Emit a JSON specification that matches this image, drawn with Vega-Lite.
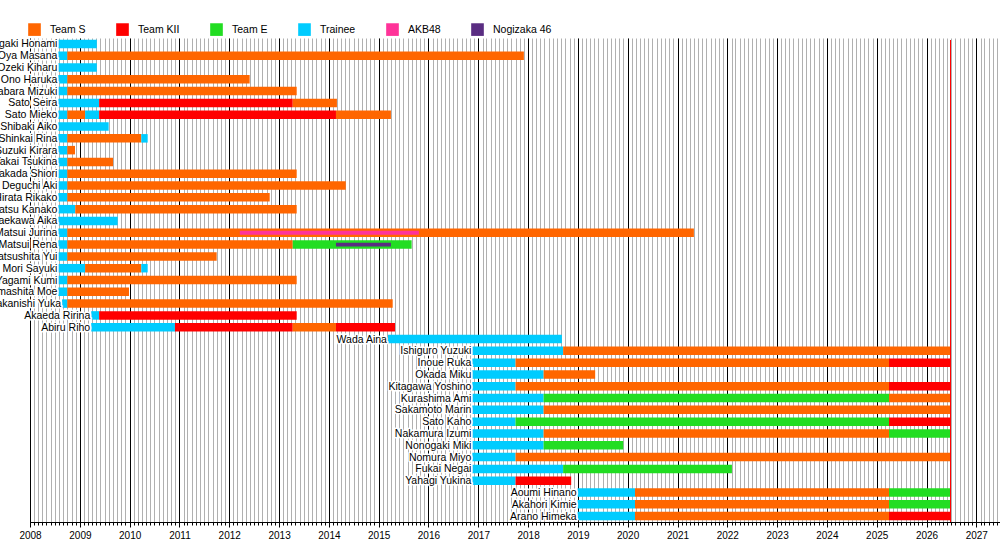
{
  "$schema": "https://vega.github.io/schema/vega-lite/v6.json",
  "autosize": {"type": "none"},
  "padding": {"left": 30, "top": 38, "right": 0, "bottom": 33},
  "width": 970,
  "height": 484,
  "background": "white",
  "config": {
    "view": {"stroke": null},
    "font": "Liberation Sans",
    "legend": {
      "orient": "none",
      "legendX": -2,
      "legendY": -15,
      "direction": "horizontal",
      "columns": 6,
      "title": null,
      "padding": 0,
      "symbolType": "square",
      "symbolSize": 160,
      "symbolStrokeWidth": 0,
      "symbolOpacity": 1,
      "labelFont": "Liberation Sans",
      "labelFontSize": 10.5,
      "labelColor": "black",
      "labelOffset": 9,
      "columnPadding": 30
    }
  },
  "datasets": {
    "spans": [
      {"member": "Inagaki Honami", "status": "Trainee", "start": "2008-07-27", "end": "2009-05-05"},
      {"member": "Oya Masana", "status": "Trainee", "start": "2008-07-27", "end": "2008-10-01"},
      {"member": "Oya Masana", "status": "Team S", "start": "2008-10-01", "end": "2017-12-01"},
      {"member": "Ozeki Kiharu", "status": "Trainee", "start": "2008-07-27", "end": "2009-05-05"},
      {"member": "Ono Haruka", "status": "Trainee", "start": "2008-07-27", "end": "2008-10-01"},
      {"member": "Ono Haruka", "status": "Team S", "start": "2008-10-01", "end": "2012-05-30"},
      {"member": "Kuwabara Mizuki", "status": "Trainee", "start": "2008-07-27", "end": "2008-10-01"},
      {"member": "Kuwabara Mizuki", "status": "Team S", "start": "2008-10-01", "end": "2013-05-10"},
      {"member": "Sato Seira", "status": "Trainee", "start": "2008-07-27", "end": "2009-05-22"},
      {"member": "Sato Seira", "status": "Team KII", "start": "2009-05-22", "end": "2013-04-11"},
      {"member": "Sato Seira", "status": "Team S", "start": "2013-04-11", "end": "2014-03-01"},
      {"member": "Sato Mieko", "status": "Trainee", "start": "2008-07-27", "end": "2008-10-01"},
      {"member": "Sato Mieko", "status": "Team S", "start": "2008-10-01", "end": "2009-02-08"},
      {"member": "Sato Mieko", "status": "Trainee", "start": "2009-02-08", "end": "2009-05-22"},
      {"member": "Sato Mieko", "status": "Team KII", "start": "2009-05-22", "end": "2014-02-22"},
      {"member": "Sato Mieko", "status": "Team S", "start": "2014-02-22", "end": "2015-04-01"},
      {"member": "Shibaki Aiko", "status": "Trainee", "start": "2008-07-27", "end": "2009-07-31"},
      {"member": "Shinkai Rina", "status": "Trainee", "start": "2008-07-27", "end": "2008-10-01"},
      {"member": "Shinkai Rina", "status": "Team S", "start": "2008-10-01", "end": "2010-03-27"},
      {"member": "Shinkai Rina", "status": "Trainee", "start": "2010-03-27", "end": "2010-05-13"},
      {"member": "Suzuki Kirara", "status": "Trainee", "start": "2008-07-27", "end": "2008-10-01"},
      {"member": "Suzuki Kirara", "status": "Team S", "start": "2008-10-01", "end": "2008-11-26"},
      {"member": "Takai Tsukina", "status": "Trainee", "start": "2008-07-27", "end": "2008-10-01"},
      {"member": "Takai Tsukina", "status": "Team S", "start": "2008-10-01", "end": "2009-09-01"},
      {"member": "Takada Shiori", "status": "Trainee", "start": "2008-07-27", "end": "2008-10-01"},
      {"member": "Takada Shiori", "status": "Team S", "start": "2008-10-01", "end": "2013-05-10"},
      {"member": "Deguchi Aki", "status": "Trainee", "start": "2008-07-27", "end": "2008-10-01"},
      {"member": "Deguchi Aki", "status": "Team S", "start": "2008-10-01", "end": "2014-05-05"},
      {"member": "Hirata Rikako", "status": "Trainee", "start": "2008-07-27", "end": "2008-10-01"},
      {"member": "Hirata Rikako", "status": "Team S", "start": "2008-10-01", "end": "2012-10-24"},
      {"member": "Hiramatsu Kanako", "status": "Trainee", "start": "2008-07-27", "end": "2008-11-28"},
      {"member": "Hiramatsu Kanako", "status": "Team S", "start": "2008-11-28", "end": "2013-05-10"},
      {"member": "Maekawa Aika", "status": "Trainee", "start": "2008-07-27", "end": "2009-10-05"},
      {"member": "Matsui Jurina", "status": "Trainee", "start": "2008-07-27", "end": "2008-10-01"},
      {"member": "Matsui Jurina", "status": "Team S", "start": "2008-10-01", "end": "2021-05-01"},
      {"member": "Matsui Rena", "status": "Trainee", "start": "2008-07-27", "end": "2008-10-01"},
      {"member": "Matsui Rena", "status": "Team S", "start": "2008-10-01", "end": "2013-04-11"},
      {"member": "Matsui Rena", "status": "Team E", "start": "2013-04-11", "end": "2015-08-31"},
      {"member": "Matsushita Yui", "status": "Trainee", "start": "2008-07-27", "end": "2008-10-01"},
      {"member": "Matsushita Yui", "status": "Team S", "start": "2008-10-01", "end": "2011-10-01"},
      {"member": "Mori Sayuki", "status": "Trainee", "start": "2008-07-27", "end": "2009-02-08"},
      {"member": "Mori Sayuki", "status": "Team S", "start": "2009-02-08", "end": "2010-03-27"},
      {"member": "Mori Sayuki", "status": "Trainee", "start": "2010-03-27", "end": "2010-05-13"},
      {"member": "Yagami Kumi", "status": "Trainee", "start": "2008-07-27", "end": "2008-10-01"},
      {"member": "Yagami Kumi", "status": "Team S", "start": "2008-10-01", "end": "2013-05-10"},
      {"member": "Yamashita Moe", "status": "Trainee", "start": "2008-07-27", "end": "2008-10-01"},
      {"member": "Yamashita Moe", "status": "Team S", "start": "2008-10-01", "end": "2009-12-27"},
      {"member": "Nakanishi Yuka", "status": "Trainee", "start": "2008-08-23", "end": "2008-10-01"},
      {"member": "Nakanishi Yuka", "status": "Team S", "start": "2008-10-01", "end": "2015-04-14"},
      {"member": "Akaeda Ririna", "status": "Trainee", "start": "2009-03-25", "end": "2009-05-22"},
      {"member": "Akaeda Ririna", "status": "Team KII", "start": "2009-05-22", "end": "2013-05-10"},
      {"member": "Abiru Riho", "status": "Trainee", "start": "2009-03-25", "end": "2010-11-29"},
      {"member": "Abiru Riho", "status": "Team KII", "start": "2010-11-29", "end": "2013-04-11"},
      {"member": "Abiru Riho", "status": "Team S", "start": "2013-04-11", "end": "2014-02-22"},
      {"member": "Abiru Riho", "status": "Team KII", "start": "2014-02-22", "end": "2015-05-01"},
      {"member": "Wada Aina", "status": "Trainee", "start": "2015-03-10", "end": "2018-09-06"},
      {"member": "Ishiguro Yuzuki", "status": "Trainee", "start": "2016-11-18", "end": "2018-09-15"},
      {"member": "Ishiguro Yuzuki", "status": "Team S", "start": "2018-09-15", "end": "2026-06-26"},
      {"member": "Inoue Ruka", "status": "Trainee", "start": "2016-11-18", "end": "2017-10-01"},
      {"member": "Inoue Ruka", "status": "Team S", "start": "2017-10-01", "end": "2025-04-01"},
      {"member": "Inoue Ruka", "status": "Team KII", "start": "2025-04-01", "end": "2026-06-26"},
      {"member": "Okada Miku", "status": "Trainee", "start": "2016-11-18", "end": "2018-04-25"},
      {"member": "Okada Miku", "status": "Team S", "start": "2018-04-25", "end": "2019-05-08"},
      {"member": "Kitagawa Yoshino", "status": "Trainee", "start": "2016-11-18", "end": "2017-10-01"},
      {"member": "Kitagawa Yoshino", "status": "Team S", "start": "2017-10-01", "end": "2025-04-01"},
      {"member": "Kitagawa Yoshino", "status": "Team KII", "start": "2025-04-01", "end": "2026-06-26"},
      {"member": "Kurashima Ami", "status": "Trainee", "start": "2016-11-18", "end": "2018-04-25"},
      {"member": "Kurashima Ami", "status": "Team E", "start": "2018-04-25", "end": "2025-04-01"},
      {"member": "Kurashima Ami", "status": "Team S", "start": "2025-04-01", "end": "2026-06-26"},
      {"member": "Sakamoto Marin", "status": "Trainee", "start": "2016-11-18", "end": "2018-04-25"},
      {"member": "Sakamoto Marin", "status": "Team S", "start": "2018-04-25", "end": "2026-06-26"},
      {"member": "Sato Kaho", "status": "Trainee", "start": "2016-11-18", "end": "2017-10-01"},
      {"member": "Sato Kaho", "status": "Team E", "start": "2017-10-01", "end": "2025-04-01"},
      {"member": "Sato Kaho", "status": "Team KII", "start": "2025-04-01", "end": "2026-06-26"},
      {"member": "Nakamura Izumi", "status": "Trainee", "start": "2016-11-18", "end": "2018-04-25"},
      {"member": "Nakamura Izumi", "status": "Team S", "start": "2018-04-25", "end": "2025-04-01"},
      {"member": "Nakamura Izumi", "status": "Team E", "start": "2025-04-01", "end": "2026-06-26"},
      {"member": "Nonogaki Miki", "status": "Trainee", "start": "2016-11-18", "end": "2018-04-25"},
      {"member": "Nonogaki Miki", "status": "Team E", "start": "2018-04-25", "end": "2019-11-30"},
      {"member": "Nomura Miyo", "status": "Trainee", "start": "2016-11-18", "end": "2017-10-01"},
      {"member": "Nomura Miyo", "status": "Team S", "start": "2017-10-01", "end": "2026-06-26"},
      {"member": "Fukai Negai", "status": "Trainee", "start": "2016-11-18", "end": "2018-09-15"},
      {"member": "Fukai Negai", "status": "Team E", "start": "2018-09-15", "end": "2022-02-04"},
      {"member": "Yahagi Yukina", "status": "Trainee", "start": "2016-11-18", "end": "2017-10-01"},
      {"member": "Yahagi Yukina", "status": "Team KII", "start": "2017-10-01", "end": "2018-11-13"},
      {"member": "Aoumi Hinano", "status": "Trainee", "start": "2018-12-30", "end": "2020-02-24"},
      {"member": "Aoumi Hinano", "status": "Team S", "start": "2020-02-24", "end": "2025-04-01"},
      {"member": "Aoumi Hinano", "status": "Team E", "start": "2025-04-01", "end": "2026-06-26"},
      {"member": "Akahori Kimie", "status": "Trainee", "start": "2018-12-30", "end": "2020-02-24"},
      {"member": "Akahori Kimie", "status": "Team S", "start": "2020-02-24", "end": "2025-04-01"},
      {"member": "Akahori Kimie", "status": "Team E", "start": "2025-04-01", "end": "2026-06-26"},
      {"member": "Arano Himeka", "status": "Trainee", "start": "2018-12-30", "end": "2020-02-24"},
      {"member": "Arano Himeka", "status": "Team S", "start": "2020-02-24", "end": "2025-04-01"},
      {"member": "Arano Himeka", "status": "Team KII", "start": "2025-04-01", "end": "2026-06-26"}
    ],
    "overlays": [
      {"member": "Matsui Jurina", "status": "AKB48", "start": "2012-03-19", "end": "2015-10-23"},
      {"member": "Matsui Rena", "status": "Nogizaka 46", "start": "2014-02-22", "end": "2015-04-01"}
    ],
    "today": [
      {"date": "2026-06-26"}
    ]
  },
  "encoding": {
    "y": {
      "field": "member",
      "type": "nominal",
      "axis": null,
      "scale": {
        "paddingInner": 0.28,
        "paddingOuter": 0.14,
        "domain": [
          "Inagaki Honami", "Oya Masana", "Ozeki Kiharu", "Ono Haruka", "Kuwabara Mizuki",
          "Sato Seira", "Sato Mieko", "Shibaki Aiko", "Shinkai Rina", "Suzuki Kirara",
          "Takai Tsukina", "Takada Shiori", "Deguchi Aki", "Hirata Rikako", "Hiramatsu Kanako",
          "Maekawa Aika", "Matsui Jurina", "Matsui Rena", "Matsushita Yui", "Mori Sayuki",
          "Yagami Kumi", "Yamashita Moe", "Nakanishi Yuka", "Akaeda Ririna", "Abiru Riho",
          "Wada Aina", "Ishiguro Yuzuki", "Inoue Ruka", "Okada Miku", "Kitagawa Yoshino",
          "Kurashima Ami", "Sakamoto Marin", "Sato Kaho", "Nakamura Izumi", "Nonogaki Miki",
          "Nomura Miyo", "Fukai Negai", "Yahagi Yukina", "Aoumi Hinano", "Akahori Kimie",
          "Arano Himeka"
        ]
      }
    }
  },
  "layer": [
    {
      "data": {"name": "spans"},
      "mark": {"type": "bar"},
      "encoding": {
        "x": {
          "field": "start",
          "type": "temporal",
          "scale": {"domain": ["2008-01-01", "2027-06-24"]},
          "axis": {
            "orient": "bottom",
            "title": null,
            "tickCount": {"interval": "month", "step": 1},
            "labels": false,
            "grid": true,
            "gridColor": "#b0b0b0",
            "gridWidth": 1,
            "gridOpacity": 1,
            "ticks": true,
            "tickSize": 3,
            "tickColor": "black",
            "domain": false
          }
        },
        "x2": {"field": "end"},
        "color": {
          "field": "status",
          "type": "nominal",
          "scale": {
            "domain": ["Team S", "Team KII", "Team E", "Trainee", "AKB48", "Nogizaka 46"],
            "range": ["#ff6600", "#ff0000", "#22dd22", "#00ccff", "#ff3399", "#5a2d82"]
          }
        }
      }
    },
    {
      "data": {"name": "overlays"},
      "mark": {"type": "bar", "height": {"band": 0.45}},
      "encoding": {
        "x": {
          "field": "start",
          "type": "temporal",
          "axis": {
            "orient": "bottom",
            "title": null,
            "tickCount": {"interval": "year", "step": 1},
            "format": "%Y",
            "labelFont": "Liberation Sans",
            "labelFontSize": 10,
            "labelColor": "black",
            "labelFlush": false,
            "labelOverlap": false,
            "labelPadding": 3,
            "grid": true,
            "gridColor": "black",
            "gridWidth": 1,
            "gridOpacity": 1,
            "ticks": true,
            "tickSize": 5,
            "tickColor": "black",
            "domain": true,
            "domainColor": "black"
          }
        },
        "x2": {"field": "end"},
        "color": {"field": "status", "type": "nominal"}
      }
    },
    {
      "data": {"name": "spans"},
      "mark": {
        "type": "text",
        "align": "right",
        "baseline": "middle",
        "dx": -1,
        "dy": 0.5,
        "font": "Liberation Sans",
        "fontSize": 10.5,
        "color": "white",
        "stroke": "white",
        "strokeWidth": 3,
        "strokeJoin": "round"
      },
      "encoding": {
        "x": {"aggregate": "min", "field": "start", "type": "temporal", "axis": null},
        "text": {"field": "member"}
      }
    },
    {
      "data": {"name": "spans"},
      "mark": {
        "type": "text",
        "align": "right",
        "baseline": "middle",
        "dx": -1,
        "dy": 0.5,
        "font": "Liberation Sans",
        "fontSize": 10.5,
        "color": "black"
      },
      "encoding": {
        "x": {"aggregate": "min", "field": "start", "type": "temporal", "axis": null},
        "text": {"field": "member"}
      }
    },
    {
      "data": {"name": "today"},
      "mark": {"type": "rule", "color": "red", "strokeWidth": 1},
      "encoding": {
        "x": {"field": "date", "type": "temporal", "axis": null},
        "y": {"value": 2},
        "y2": {"value": 484}
      }
    }
  ],
  "resolve": {"axis": {"x": "independent"}}
}
